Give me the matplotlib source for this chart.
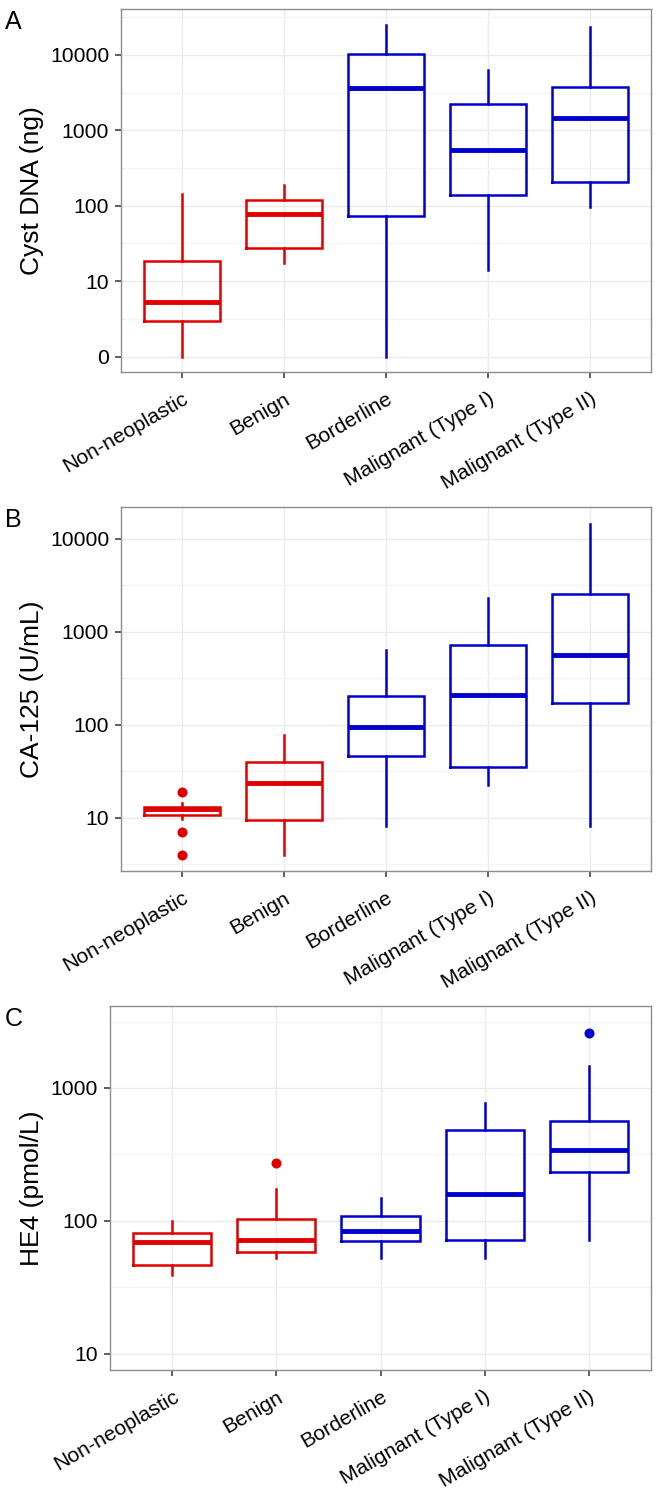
import matplotlib
matplotlib.use('Agg')
import matplotlib.pyplot as plt
from matplotlib.ticker import FixedLocator, FixedFormatter, NullFormatter

plt.rcParams['font.family'] = ['Liberation Sans', 'DejaVu Sans']

###############################################################################
# Data (box summaries per group)
groups = ['Non-neoplastic', 'Benign', 'Borderline',
          'Malignant (Type I)', 'Malignant (Type II)']
group_colors = ['#E00000', '#E00000', '#0000CC', '#0000CC', '#0000CC']

# Panel A: cyst DNA (ng); a value of 0 is drawn at 1 on the log axis
dna_whislo = [1, 17.4, 1, 14.2, 97]
dna_q1 = [2.97, 27.5, 73, 138, 206]
dna_med = [5.3, 78, 3690, 546, 1449]
dna_q3 = [18.7, 119, 10200, 2245, 3730]
dna_whishi = [144, 188, 24700, 6330, 23700]
dna_fliers = [[], [], [], [], []]

# Panel B: CA-125 (U/mL)
ca_whislo = [9.7, 4.0, 8.1, 22.3, 8.1]
ca_q1 = [10.6, 9.4, 46, 35, 173]
ca_med = [12.4, 23.6, 94.4, 207, 570]
ca_q3 = [13.2, 39.7, 202, 719, 2580]
ca_whishi = [14.3, 78, 635, 2300, 14600]
ca_fliers = [[18.8, 7.0, 4.0], [], [], [], []]

# Panel C: HE4 (pmol/L)
he4_whislo = [39.3, 52.5, 52.5, 52.5, 72]
he4_q1 = [46.2, 58.2, 70, 72.4, 232]
he4_med = [69.4, 72.4, 83.9, 160, 339]
he4_q3 = [81, 103, 109.6, 482, 562]
he4_whishi = [100, 175, 148, 771, 1462]
he4_fliers = [[], [275], [], [], [2580]]

W, H = 665, 1495


def panel_rect(left, top, right, bottom):
    return [left / W, 1 - bottom / H, (right - left) / W, (bottom - top) / H]


def draw_panel(ax, whislo, q1, med, q3, whishi, fliers, ylim, yticks, yticklabels):
    stats = [dict(whislo=a, q1=b, med=c, q3=d, whishi=e, fliers=f)
             for a, b, c, d, e, f in zip(whislo, q1, med, q3, whishi, fliers)]
    out = ax.bxp(stats, positions=range(1, 6), widths=0.75, showcaps=False,
                 manage_ticks=False)
    for i, color in enumerate(group_colors):
        out['boxes'][i].set(color=color, linewidth=1.8, solid_joinstyle='miter')
        out['medians'][i].set(color=color, linewidth=3.5, solid_capstyle='butt')
        for w in out['whiskers'][2 * i:2 * i + 2]:
            w.set(color=color, linewidth=1.8)
        out['fliers'][i].set(marker='o', markerfacecolor=color,
                             markeredgecolor=color, markersize=6.2,
                             linestyle='none')

    ax.set_yscale('log')
    ax.set_ylim(*ylim)
    ax.set_xlim(0.4, 5.6)
    ax.yaxis.set_major_locator(FixedLocator(yticks))
    ax.yaxis.set_major_formatter(FixedFormatter(yticklabels))
    minor = [10 ** (k + 0.5) for k in range(-1, 5)
             if ylim[0] < 10 ** (k + 0.5) < ylim[1]]
    ax.yaxis.set_minor_locator(FixedLocator(minor))
    ax.yaxis.set_minor_formatter(NullFormatter())
    ax.set_xticks(range(1, 6))
    ax.set_xticklabels(groups, rotation=30, ha='right', va='top',
                       rotation_mode='anchor')

    ax.set_axisbelow(True)
    ax.grid(which='major', color='#EBEBEB', linewidth=1.0)
    ax.grid(which='minor', axis='y', color='#F5F5F5', linewidth=0.9)
    ax.tick_params(which='minor', length=0)
    ax.tick_params(which='major', length=4.5, width=1.1, color='#333333',
                   labelsize=15.2, labelcolor='black')
    ax.tick_params(axis='y', pad=4)
    ax.tick_params(axis='x', pad=8)
    for sp in ax.spines.values():
        sp.set_color('#8C8C8C')
        sp.set_linewidth(1.0)


fig = plt.figure(figsize=(W / 100, H / 100), dpi=100)

axA = fig.add_axes(panel_rect(121, 9, 651, 372))
draw_panel(axA, dna_whislo, dna_q1, dna_med, dna_q3, dna_whishi, dna_fliers,
           (0.626, 40500), [1, 10, 100, 1000, 10000],
           ['0', '10', '100', '1000', '10000'])

axB = fig.add_axes(panel_rect(121, 507, 651, 871))
draw_panel(axB, ca_whislo, ca_q1, ca_med, ca_q3, ca_whishi, ca_fliers,
           (2.68, 22000), [10, 100, 1000, 10000],
           ['10', '100', '1000', '10000'])

axC = fig.add_axes(panel_rect(110, 1006, 651, 1370))
draw_panel(axC, he4_whislo, he4_q1, he4_med, he4_q3, he4_whishi, he4_fliers,
           (7.55, 4140), [10, 100, 1000], ['10', '100', '1000'])

# axis titles and panel letters
for ax, label, letter, top in [(axA, 'Cyst DNA (ng)', 'A', 9),
                               (axB, 'CA-125 (U/mL)', 'B', 507),
                               (axC, 'HE4 (pmol/L)', 'C', 1006)]:
    pos = ax.get_position()
    fig.text(32 / W, pos.y0 + pos.height / 2, label, rotation=90,
             ha='center', va='center', fontsize=19)
    fig.text(5 / W, 1 - (top + 1) / H, letter, ha='left', va='top', fontsize=18)

fig.savefig('out.png', dpi=100)
